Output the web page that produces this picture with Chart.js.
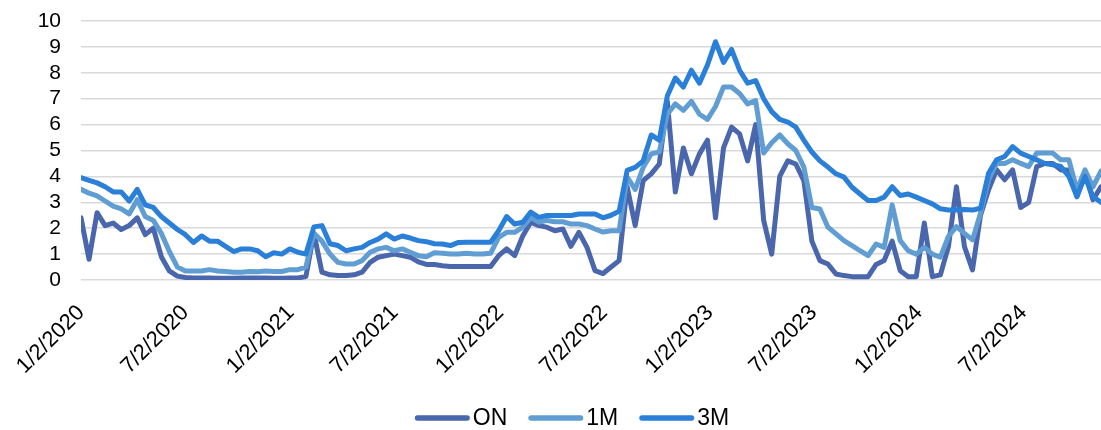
<!DOCTYPE html>
<html>
<head>
<meta charset="utf-8">
<script src="https://cdn.jsdelivr.net/npm/chart.js@4.4.1/dist/chart.umd.min.js"></script>
<style>
  html, body { margin: 0; padding: 0; background: #ffffff; }
  #wrap { width: 1101px; height: 430px; position: relative; }
</style>
</head>
<body>
<div id="wrap"><canvas id="c" width="1101" height="430"></canvas></div>
<script>
// ---- data (roughly every two weeks) ----
const dates = [
"2020-01-02","2020-01-16","2020-01-30","2020-02-13","2020-02-27","2020-03-12","2020-03-26","2020-04-09","2020-04-23","2020-05-07",
"2020-05-21","2020-06-04","2020-06-18","2020-07-02","2020-07-16","2020-07-30","2020-08-13","2020-08-27","2020-09-10","2020-09-24",
"2020-10-08","2020-10-22","2020-11-05","2020-11-19","2020-12-03","2020-12-17","2020-12-31","2021-01-14","2021-01-28","2021-02-11",
"2021-02-25","2021-03-11","2021-03-25","2021-04-08","2021-04-22","2021-05-06","2021-05-20","2021-06-03","2021-06-17","2021-07-01",
"2021-07-15","2021-07-29","2021-08-12","2021-08-26","2021-09-09","2021-09-23","2021-10-07","2021-10-21","2021-11-04","2021-11-18",
"2021-12-02","2021-12-16","2021-12-30","2022-01-13","2022-01-27","2022-02-10","2022-02-24","2022-03-10","2022-03-24","2022-04-07",
"2022-04-21","2022-05-05","2022-05-19","2022-06-02","2022-06-16","2022-06-30","2022-07-14","2022-07-28","2022-08-11","2022-08-25",
"2022-09-08","2022-09-22","2022-10-06","2022-10-20","2022-11-03","2022-11-17","2022-12-01","2022-12-15","2022-12-29","2023-01-12",
"2023-01-26","2023-02-09","2023-02-23","2023-03-09","2023-03-23","2023-04-06","2023-04-20","2023-05-04","2023-05-18","2023-06-01",
"2023-06-15","2023-06-29","2023-07-13","2023-07-27","2023-08-10","2023-08-24","2023-09-07","2023-09-21","2023-10-05","2023-10-19",
"2023-11-02","2023-11-16","2023-11-30","2023-12-14","2023-12-28","2024-01-11","2024-01-25","2024-02-08","2024-02-22","2024-03-07",
"2024-03-21","2024-04-04","2024-04-18","2024-05-02","2024-05-16","2024-05-30","2024-06-13","2024-06-27","2024-07-11","2024-07-25",
"2024-08-08","2024-08-22","2024-09-05","2024-09-19","2024-10-03","2024-10-17","2024-10-31","2024-11-14"
];

const onValues = [
2.4,0.8,2.6,2.1,2.2,1.95,2.1,2.4,1.75,2.0,
0.9,0.35,0.15,0.1,0.08,0.08,0.08,0.07,0.07,0.07,
0.08,0.08,0.08,0.08,0.07,0.07,0.08,0.08,0.13,1.8,
0.3,0.2,0.17,0.17,0.2,0.3,0.68,0.88,0.94,1.0,
0.94,0.88,0.7,0.6,0.6,0.55,0.52,0.52,0.52,0.52,
0.52,0.52,0.94,1.2,0.94,1.7,2.23,2.1,2.04,1.9,
1.97,1.3,1.84,1.26,0.36,0.25,0.5,0.75,3.6,2.1,
3.84,4.1,4.48,6.9,3.4,5.1,4.1,4.87,5.4,2.4,
5.1,5.9,5.64,4.6,6.0,2.3,1.0,4.0,4.6,4.48,
3.84,1.5,0.75,0.62,0.23,0.17,0.13,0.13,0.13,0.6,
0.75,1.5,0.36,0.13,0.13,2.2,0.13,0.2,1.29,3.6,
1.29,0.39,2.5,3.48,4.25,3.87,4.25,2.8,3.0,4.38,
4.5,4.5,4.25,4.25,3.22,4.12,3.1,3.6
];

const m1Values = [
3.5,3.35,3.25,3.05,2.85,2.75,2.55,3.1,2.45,2.3,
1.8,1.1,0.5,0.35,0.35,0.35,0.4,0.35,0.33,0.3,
0.3,0.33,0.32,0.35,0.33,0.33,0.4,0.4,0.5,1.8,
1.5,1.0,0.68,0.62,0.62,0.75,1.07,1.2,1.26,1.13,
1.2,1.07,0.94,0.9,1.05,1.03,1.0,1.0,1.03,1.0,
1.0,1.03,1.65,1.84,1.84,2.04,2.42,2.23,2.3,2.25,
2.25,2.16,2.16,2.1,1.97,1.85,1.9,1.9,3.97,3.5,
4.35,4.87,4.94,6.4,6.8,6.55,6.9,6.4,6.2,6.7,
7.45,7.45,7.2,6.8,6.93,4.9,5.3,5.6,5.26,5.0,
4.36,2.8,2.74,2.04,1.78,1.52,1.33,1.13,0.94,1.39,
1.26,2.9,1.52,1.13,1.0,1.26,1.0,0.88,1.68,2.06,
1.8,1.55,2.58,3.87,4.5,4.5,4.64,4.5,4.38,4.9,
4.9,4.9,4.64,4.64,3.48,4.25,3.6,4.2
];

const m3Values = [
3.95,3.85,3.75,3.6,3.4,3.4,3.05,3.5,2.9,2.8,
2.45,2.2,1.95,1.75,1.45,1.7,1.5,1.5,1.3,1.1,
1.2,1.2,1.13,0.9,1.05,1.0,1.2,1.07,1.0,2.05,
2.1,1.4,1.33,1.13,1.2,1.26,1.45,1.58,1.78,1.58,
1.7,1.62,1.52,1.48,1.4,1.39,1.33,1.45,1.46,1.46,
1.46,1.46,1.9,2.45,2.16,2.23,2.62,2.42,2.49,2.49,
2.49,2.49,2.55,2.55,2.55,2.4,2.5,2.65,4.23,4.35,
4.6,5.6,5.4,7.1,7.8,7.45,8.1,7.6,8.3,9.2,
8.4,8.9,8.1,7.6,7.7,7.0,6.5,6.2,6.1,5.9,
5.4,4.94,4.6,4.36,4.1,3.97,3.58,3.32,3.07,3.07,
3.2,3.6,3.26,3.32,3.2,3.07,2.94,2.75,2.7,2.7,
2.72,2.7,2.77,4.12,4.64,4.77,5.15,4.9,4.77,4.64,
4.5,4.45,4.38,4.0,3.22,4.0,3.22,3.0
];

const seriesNames = ["ON", "1M", "3M"];
const seriesColors = ["#4A66AC", "#5F9DD3", "#2A7FD8"];

const tickDates = ["2020-01-02","2020-07-02","2021-01-02","2021-07-02","2022-01-02","2022-07-02","2023-01-02","2023-07-02","2024-01-02","2024-07-02"];
const tickLabels = ["1/2/2020","7/2/2020","1/2/2021","7/2/2021","1/2/2022","7/2/2022","1/2/2023","7/2/2023","1/2/2024","7/2/2024"];

const yTickValues = [0,1,2,3,4,5,6,7,8,9,10];

// ---- helpers ----
function dayNum(s) {
  const p = s.split("-").map(Number);
  return Date.UTC(p[0], p[1] - 1, p[2]) / 86400000;
}
const day0 = dayNum(dates[0]);
const xs = dates.map(d => dayNum(d) - day0);
const tickXs = tickDates.map(d => dayNum(d) - day0);
const tickMap = {};
tickXs.forEach((v, i) => { tickMap[v] = tickLabels[i]; });

function pts(vals) { return vals.map((v, i) => ({ x: xs[i], y: v })); }

const allVals = [onValues, m1Values, m3Values];
const FONT = "'Liberation Sans', Arial, sans-serif";

const datasets = allVals.map((vals, i) => ({
  label: seriesNames[i],
  data: pts(vals),
  borderColor: seriesColors[i],
  backgroundColor: seriesColors[i],
  borderWidth: 5,
  pointRadius: 0,
  pointHoverRadius: 0,
  tension: 0,
  borderJoinStyle: "round",
  borderCapStyle: "round",
  order: 3 - i
}));

// custom legend drawn under the x axis
const legendPlugin = {
  id: "lineLegend",
  afterDraw(chart) {
    const ctx = chart.ctx;
    const lineLen = 55, gap = 3, itemGap = 21, lw = 5.5;
    ctx.save();
    ctx.font = "23px " + FONT;
    const widths = seriesNames.map(n => ctx.measureText(n).width);
    const total = widths.reduce((a, w) => a + lineLen + gap + w, 0) + itemGap * (seriesNames.length - 1);
    let x = 572 - total / 2;
    const y = 418;
    seriesNames.forEach((n, i) => {
      ctx.strokeStyle = seriesColors[i];
      ctx.lineWidth = lw;
      ctx.lineCap = "round";
      ctx.beginPath();
      ctx.moveTo(x + lw / 2, y);
      ctx.lineTo(x + lineLen - lw / 2, y);
      ctx.stroke();
      ctx.fillStyle = "#000";
      ctx.textBaseline = "middle";
      ctx.textAlign = "left";
      ctx.fillText(n, x + lineLen + gap, y + 1);
      x += lineLen + gap + widths[i] + itemGap;
    });
    ctx.restore();
  }
};

new Chart(document.getElementById("c"), {
  type: "line",
  data: { datasets },
  plugins: [legendPlugin],
  options: {
    responsive: false,
    animation: false,
    devicePixelRatio: 1,
    layout: { padding: { top: 21, right: 0, left: 0, bottom: 50 } },
    plugins: {
      tooltip: { enabled: false },
      legend: { display: false }
    },
    scales: {
      x: {
        type: "linear",
        min: 0,
        max: xs[xs.length - 1],
        offset: false,
        grid: { display: false, drawTicks: false },
        border: { display: false },
        afterBuildTicks: s => { s.ticks = tickXs.map(v => ({ value: v })); },
        afterFit: s => { s.height = 100; s.paddingLeft = 0; s.paddingRight = 0; },
        ticks: {
          autoSkip: false,
          minRotation: 45,
          maxRotation: 45,
          padding: 20,
          color: "#000",
          font: { family: FONT, size: 22 },
          callback: v => tickMap[v] || ""
        }
      },
      y: {
        min: 0,
        max: 10,
        grid: { color: "#D9D9D9", lineWidth: 1.5, drawTicks: false },
        border: { display: false },
        afterBuildTicks: s => { s.ticks = yTickValues.map(v => ({ value: v })); },
        afterFit: s => { s.width = 81; s.paddingTop = 0; s.paddingBottom = 0; },
        ticks: {
          autoSkip: false,
          padding: 20,
          color: "#000",
          font: { family: FONT, size: 21 }
        }
      }
    }
  }
});
</script>
</body>
</html>
